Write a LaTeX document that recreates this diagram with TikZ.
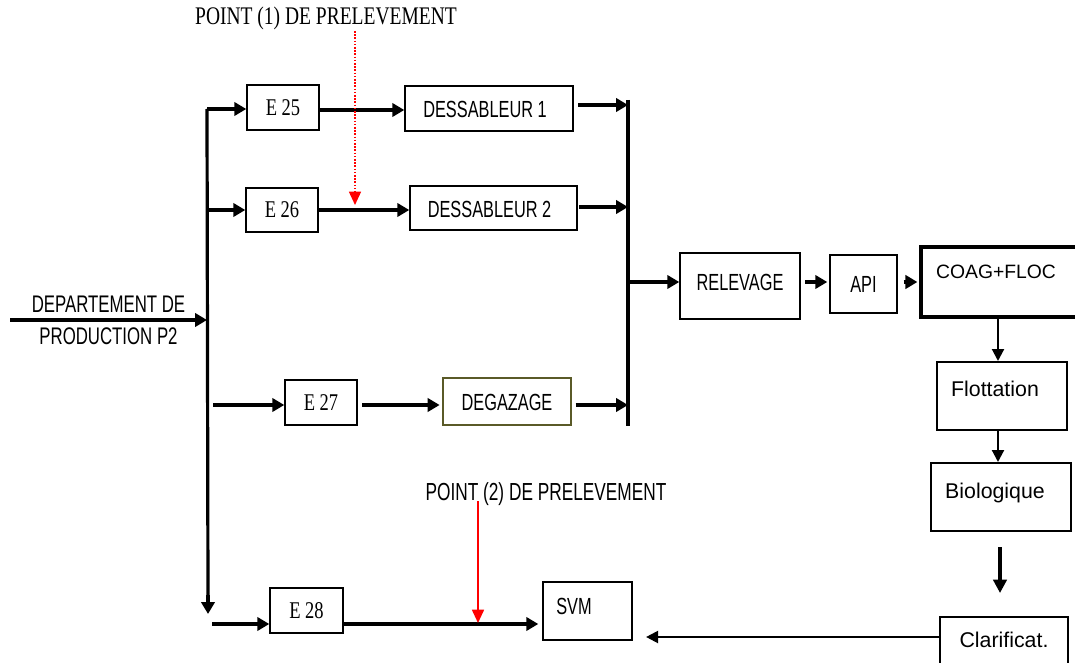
\documentclass[tikz,border=0pt]{standalone}
\usepackage{fontspec}
\setmainfont{Liberation Sans}
\newfontfamily\narrowsans[FakeStretch=0.7]{Liberation Sans}
\newfontfamily\narrowserif[FakeStretch=0.77]{Liberation Serif}
\usetikzlibrary{arrows.meta,fit}
\definecolor{olivebox}{RGB}{90,90,40}
\definecolor{samplered}{RGB}{255,0,0}

\begin{document}
\begin{tikzpicture}[x=0.75pt,y=-0.75pt,
  box/.style={draw, line width=1.1pt, inner sep=0pt},
  flow/.style={line width=2.4pt, -{Triangle[length=9pt,width=10pt]}},
  thinflow/.style={line width=1.6pt, -{Triangle[length=9pt,width=9pt]}},
  busline/.style={line width=2.4pt},
  seriflbl/.style={font=\narrowserif\fontsize{18}{21}\selectfont},
  sanslbl/.style={font=\narrowsans\fontsize{17.5}{20}\selectfont},
  plainlbl/.style={font=\fontsize{16}{19}\selectfont},
  ]
\useasboundingbox (0,0) rectangle (1075,663);

% ---- process boxes (text set on the box centre)
\node[box, fit={(247,85)(319,130)}, label={[seriflbl]center:E 25}] (e25) {};
\node[box, fit={(405,86)(573,131)}, label={[sanslbl,xshift=-3pt,yshift=-1pt]center:DESSABLEUR 1}] (d1) {};
\node[box, fit={(246,188)(318,232)}, label={[seriflbl]center:E 26}] (e26) {};
\node[box, fit={(410,186)(577,230)}, label={[sanslbl,xshift=-3pt,yshift=-1pt]center:DESSABLEUR 2}] (d2) {};
\node[box, fit={(285,380)(357,425)}, label={[seriflbl]center:E 27}] (e27) {};
\node[box, draw=olivebox, fit={(443,378)(571,425)}, label={[sanslbl,yshift=-1pt]center:DEGAZAGE}] (deg) {};
\node[box, fit={(270,588)(343,633)}, label={[seriflbl]center:E 28}] (e28) {};
\node[box, fit={(543,582)(632,640)}] (svm) {};
\node[sanslbl] (svmtxt) at (574,606) {SVM};
\node[box, fit={(680,253)(800,319)}, label={[sanslbl,yshift=3pt]center:RELEVAGE}] (rel) {};
\node[box, fit={(830,255)(897,313)}, label={[sanslbl]center:API}] (api) {};
\node[box, line width=2.4pt, fit={(921,247)(1090,317)}] (coag) {};
\node[font=\fontsize{14.5}{17}\selectfont] (coagtxt) at (996,272) {COAG+FLOC};
\node[box, fit={(937,362)(1067,430)}] (flot) {};
\node[plainlbl] (flottxt) at (995,389) {Flottation};
\node[box, fit={(931,463)(1071,531)}] (bio) {};
\node[plainlbl] (biotxt) at (995,493) {Biologique};
\node[box, fit={(940,617)(1068,672)}] (clar) {};
\node[plainlbl] (clartxt) at (1004,640) {Clarificat.};

% ---- sampling point labels
\node[font=\narrowserif\fontsize{19}{22}\selectfont] (pt1) at (326,18) {POINT (1) DE PRELEVEMENT};
\node[font=\narrowsans\fontsize{18.5}{21}\selectfont] (pt2) at (546,494) {POINT (2) DE PRELEVEMENT};

% ---- collector lines
\coordinate (bl-top) at (207,109);
\coordinate (bl-bot) at (208,614);
\coordinate (br-top) at (628,100);
\coordinate (br-bot) at (628,426);
\draw[busline] (bl-top) -- (208,600);
\draw[flow] (208,595) -- (bl-bot);
\draw[busline] (br-top) -- (br-bot);

% ---- feed from the production department
\coordinate (src) at (10,320);
\draw[flow] (src) -- (src -| bl-top)
  node[pos=0.5, above=1pt, font=\narrowsans\fontsize{18}{21}\selectfont] (dep1) {DEPARTEMENT DE}
  node[pos=0.5, below=1pt, font=\narrowsans\fontsize{18}{21}\selectfont] (dep2) {PRODUCTION P2};

% ---- branches 1 and 2
\draw[flow] (bl-top) -- (bl-top -| e25.west);
\draw[flow] (e25.east |- 0,110) -- (d1.west |- 0,110);
\draw[flow] ([xshift=3.5pt]d1.east |- 0,105) -- (br-top |- 0,105);
\draw[flow] (bl-top |- e26.west) -- (e26.west);
\draw[flow] (e26.east |- 0,210) -- (d2.west |- 0,210);
\draw[flow] ([xshift=1pt]d2.east |- 0,207) -- (br-top |- 0,207);

% ---- branch 3
\coordinate (s27) at (213,405);
\draw[flow] (s27) -- (s27 -| e27.west);
\draw[flow] ([xshift=3.5pt]e27.east |- s27) -- ([xshift=-2pt]deg.west |- s27);
\draw[flow] ([xshift=3pt]deg.east |- s27) -- (br-top |- s27);

% ---- branch 4
\coordinate (s28) at (212,624);
\draw[flow, line width=3pt] (s28) -- (s28 -| e28.west);
\draw[flow] (e28.east |- s28) -- ([xshift=-3pt]svm.west |- s28);

% ---- treatment line
\coordinate (trt) at (628,282);
\draw[flow] (trt) -- (trt -| rel.west);
\draw[flow] ([xshift=3.5pt]rel.east |- trt) -- ([xshift=-1.5pt]api.west |- trt);
\draw[flow] ([xshift=4.5pt]api.east |- trt) -- ([xshift=-1.5pt]coag.west |- trt);
\draw[thinflow] (998,317) -- (998,361);
\draw[thinflow] (998,430) -- (998,462);
\draw[line width=2.4pt, -{Triangle[length=10pt,width=10pt]}] (1000,547) -- (1000,593);
\draw[thinflow] (clar.west |- 0,637) -- ([xshift=10pt]svm.east |- 0,637);

% ---- sampling points
\draw[samplered, line width=1.1pt, dash pattern=on 1.2pt off 1.2pt,
      -{Triangle[length=10pt,width=9pt]}] (355,31) -- (355,205);
\draw[samplered, line width=1.3pt, -{Triangle[length=10pt,width=9pt]}] (478,501) -- (478,623);
\end{tikzpicture}
\end{document}
